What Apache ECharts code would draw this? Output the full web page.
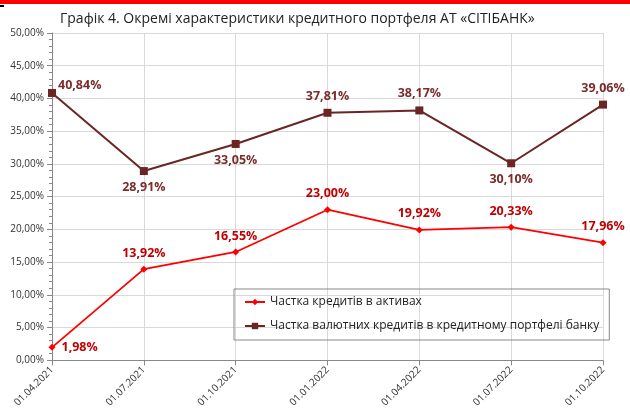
<!DOCTYPE html>
<html>
<head>
<meta charset="utf-8">
<script src="https://cdn.jsdelivr.net/npm/echarts@6/dist/echarts.min.js"></script>
<style>
  html, body { margin: 0; padding: 0; background: #fff; }
  #chart { width: 630px; height: 410px; }
</style>
</head>
<body>
<div id="chart"></div>
<script>
// дані графіка
var dates = ['01.04.2021', '01.07.2021', '01.10.2021', '01.01.2022', '01.04.2022', '01.07.2022', '01.10.2022']
var loansInAssets = [1.98, 13.92, 16.55, 23.00, 19.92, 20.33, 17.96]
var fxLoansShare = [40.84, 28.91, 33.05, 37.81, 38.17, 30.10, 39.06]
var redLabelPos = ['right', 'top', 'top', 'top', 'top', 'top', 'top']
var brownLabelPos = [[10, -10], 'bottom', 'bottom', 'top', 'top', 'bottom', 'top']

var FONT = '"Open Sans", "Liberation Sans", sans-serif'

function pct(v) {
  return v.toFixed(2).replace('.', ',') + '%'
}

function points(values, positions) {
  return values.map(function(v, i) {
    return { value: v, label: { position: positions[i] } }
  })
}

var chart = echarts.init(document.getElementById('chart'))
var option = {
  backgroundColor: '#fff',
  animation: false,
  title: {
    text: 'Графік 4. Окремі характеристики кредитного портфеля АТ «СІТІБАНК»',
    left: 55,
    top: 7,
    textStyle: { fontFamily: FONT, fontSize: 14, fontWeight: 'normal', color: '#222' }
  },
  graphic: [
    { type: 'rect', shape: { x: 0, y: 0, width: 630, height: 4 }, style: { fill: '#ff0000' } },
    { type: 'rect', shape: { x: 0, y: 5, width: 4, height: 2 }, style: { fill: '#000' } }
  ],
  grid: { left: 52, right: 27, top: 33, bottom: 48 },
  legend: {
    orient: 'vertical',
    left: 234,
    top: 289,
    width: 364,
    padding: [7, 10, 8, 10],
    itemGap: 12,
    itemWidth: 20,
    itemHeight: 8,
    borderColor: '#888',
    borderWidth: 1,
    textStyle: { fontFamily: FONT, fontSize: 12, color: '#222', padding: [0, 95, 0, 0] },
    data: ['Частка кредитів в активах', 'Частка валютних кредитів в кредитному портфелі банку']
  },
  xAxis: {
    type: 'category',
    boundaryGap: false,
    data: dates,
    axisLine: { lineStyle: { color: '#888' } },
    axisTick: { show: true, length: 5, lineStyle: { color: '#888' } },
    axisLabel: { rotate: 45, fontFamily: FONT, fontSize: 10, color: '#333', margin: 8 },
    splitLine: { show: true, lineStyle: { color: '#d9d9d9' } }
  },
  yAxis: {
    type: 'value',
    min: 0,
    max: 50,
    interval: 5,
    axisLine: { show: true, lineStyle: { color: '#888' } },
    axisTick: { show: true, inside: false, length: 5, lineStyle: { color: '#888' } },
    minorTick: { show: true, splitNumber: 5, length: 3, lineStyle: { color: '#888' } },
    axisLabel: {
      fontFamily: FONT, fontSize: 10, color: '#333', margin: 8,
      formatter: function(v) { return pct(v) }
    },
    splitLine: { lineStyle: { color: '#d9d9d9' } }
  },
  series: [{
    name: 'Частка кредитів в активах',
    type: 'line',
    symbol: 'diamond',
    symbolSize: 7,
    color: '#ff0000',
    lineStyle: { width: 1.8, color: '#ff0000' },
    itemStyle: { color: '#ff0000' },
    label: {
      show: true,
      fontFamily: FONT, fontSize: 12.5, fontWeight: 'bold', color: '#c00000',
      distance: 6,
      formatter: function(p) { return pct(p.value) }
    },
    data: points(loansInAssets, redLabelPos)
  }, {
    name: 'Частка валютних кредитів в кредитному портфелі банку',
    type: 'line',
    symbol: 'rect',
    symbolSize: 8,
    color: '#6b2525',
    lineStyle: { width: 2, color: '#6b2525' },
    itemStyle: { color: '#6b2525' },
    label: {
      show: true,
      fontFamily: FONT, fontSize: 12.5, fontWeight: 'bold', color: '#7b2c2c',
      distance: 6,
      formatter: function(p) { return pct(p.value) }
    },
    data: points(fxLoansShare, brownLabelPos)
  }]
}
chart.setOption(option)
</script>
</body>
</html>
